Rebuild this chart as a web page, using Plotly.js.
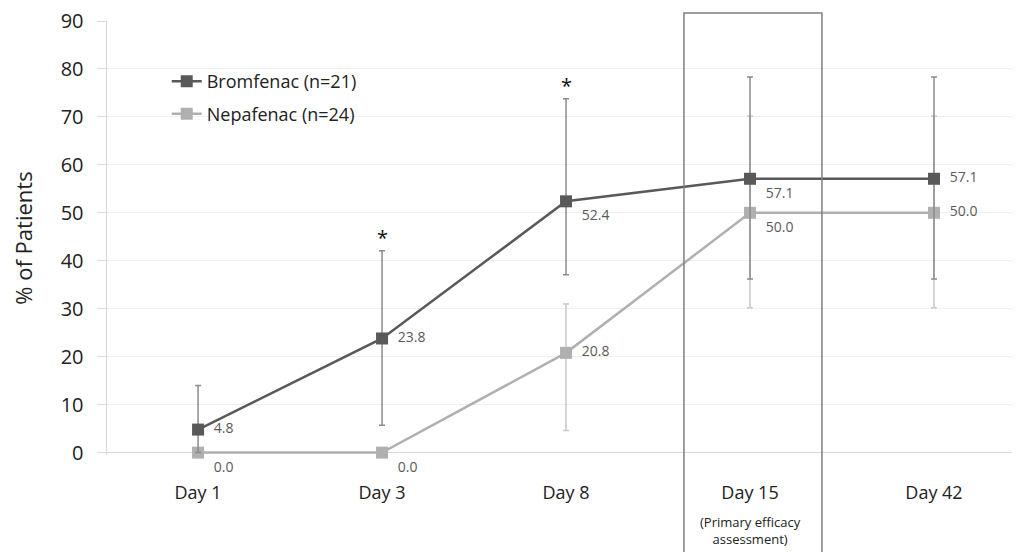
<!DOCTYPE html>
<html>
<head>
<meta charset="utf-8">
<script src="https://cdn.plot.ly/plotly-3.0.1.min.js"></script>
<style>html,body{margin:0;padding:0;background:#fff;}#chart{width:1016px;height:552px;}</style>
</head>
<body>
<div id="chart"></div>
<script>
// ---- data ----
const categories = ["Day 1", "Day 3", "Day 8", "Day 15", "Day 42"];
const bromfenacName = "Bromfenac (n=21)";
const nepafenacName = "Nepafenac (n=24)";
const bromfenac = [4.8, 23.8, 52.4, 57.1, 57.1];
const bromfenacUpper = [14.0, 42.1, 73.8, 78.3, 78.3];
const bromfenacLower = [0.0, 5.7, 37.1, 36.2, 36.2];
const nepafenac = [0.0, 0.0, 20.8, 50.0, 50.0];
const nepafenacUpper = [0.0, 0.0, 31.0, 70.2, 70.2];
const nepafenacLower = [0.0, 0.0, 4.6, 30.2, 30.2];
const significant = [false, true, true, false, false];
const bromfenacLabelPos = ["middle right", "middle right", "bottom right", "bottom right", "middle right"];
const nepafenacLabelPos = ["bottom right", "bottom right", "middle right", "bottom right", "middle right"];
const highlightCategory = "Day 15";
const highlightNote = "(Primary efficacy<br>assessment)";

const xs = categories.map((c, i) => i);
const fmt = v => "  " + v.toFixed(1);
const FONT = "Open Sans, Noto Sans, sans-serif";

const traces = [
  {
    x: xs, y: nepafenac, name: nepafenacName, type: "scatter", mode: "lines+markers+text",
    text: nepafenac.map(fmt), textposition: nepafenacLabelPos,
    textfont: {family: FONT, size: 14, color: "#595959"},
    line: {color: "#b0b0b0", width: 2.5, shape: "linear"},
    marker: {symbol: "square", size: 12, color: "#b0b0b0"},
    error_y: {type: "data", symmetric: false,
      array: nepafenacUpper.map((u, i) => u - nepafenac[i]),
      arrayminus: nepafenac.map((v, i) => v - nepafenacLower[i]),
      color: "#c8c8c8", thickness: 1.5, width: 3},
    cliponaxis: false, legendrank: 2, legendgroup: "n"
  },
  {
    x: xs, y: bromfenac, name: bromfenacName, type: "scatter", mode: "lines+markers+text",
    text: bromfenac.map(fmt), textposition: bromfenacLabelPos,
    textfont: {family: FONT, size: 14, color: "#595959"},
    line: {color: "#595959", width: 2.5, shape: "linear"},
    marker: {symbol: "square", size: 12, color: "#595959"},
    error_y: {type: "data", symmetric: false,
      array: bromfenacUpper.map((u, i) => u - bromfenac[i]),
      arrayminus: bromfenac.map((v, i) => v - bromfenacLower[i]),
      color: "#8c8c8c", thickness: 1.5, width: 3},
    cliponaxis: false, legendrank: 1, legendgroup: "b"
  }
];

const hi = categories.indexOf(highlightCategory);
const annotations = [];
significant.forEach((s, i) => {
  if (s) annotations.push({x: i, y: bromfenacUpper[i], xref: "x", yref: "y", text: "*",
    showarrow: false, yanchor: "bottom", yshift: -2,
    font: {family: FONT, size: 20, color: "#111"}});
});
annotations.push({x: hi, y: -0.128, xref: "x", yref: "paper", text: highlightNote,
  showarrow: false, yanchor: "top", font: {family: FONT, size: 13, color: "#222"}});

const layout = {
  width: 1016, height: 552,
  margin: {l: 107, r: 4, t: 21, b: 97},
  paper_bgcolor: "#fff", plot_bgcolor: "#fff",
  font: {family: FONT, color: "#222"},
  xaxis: {
    tickmode: "array", tickvals: xs, ticktext: categories,
    range: [-0.495, 4.424], showgrid: false, zeroline: false,
    showline: false, ticks: "", ticklabelstandoff: 25,
    tickfont: {size: 18, color: "#222"}
  },
  yaxis: {
    range: [-0.5, 90], dtick: 10, tick0: 0,
    showgrid: true, gridcolor: "#f0f0f0", gridwidth: 1,
    zeroline: true, zerolinecolor: "#d9d9d9", zerolinewidth: 1.5,
    showline: true, linecolor: "#d9d9d9", linewidth: 1.5,
    ticks: "outside", ticklen: 9, tickcolor: "#d9d9d9",
    ticklabelstandoff: 9,
    tickfont: {size: 20, color: "#222"},
    title: {text: "% of Patients", font: {size: 22, color: "#222"}, standoff: 22}
  },
  legend: {x: 0.066, y: 0.903, xanchor: "left", yanchor: "top",
    font: {size: 18, color: "#222"}, bgcolor: "rgba(0,0,0,0)", itemwidth: 30,
    tracegroupgap: 6},
  shapes: [{type: "rect", xref: "x", yref: "paper",
    x0: hi - 0.359, x1: hi + 0.391, y0: -0.23, y1: 1.0185,
    line: {color: "#7f7f7f", width: 1.5}, fillcolor: "rgba(0,0,0,0)", layer: "above"}],
  annotations: annotations,
  showlegend: true
};

Plotly.newPlot("chart", traces, layout, {displayModeBar: false, staticPlot: true});
</script>
</body>
</html>
